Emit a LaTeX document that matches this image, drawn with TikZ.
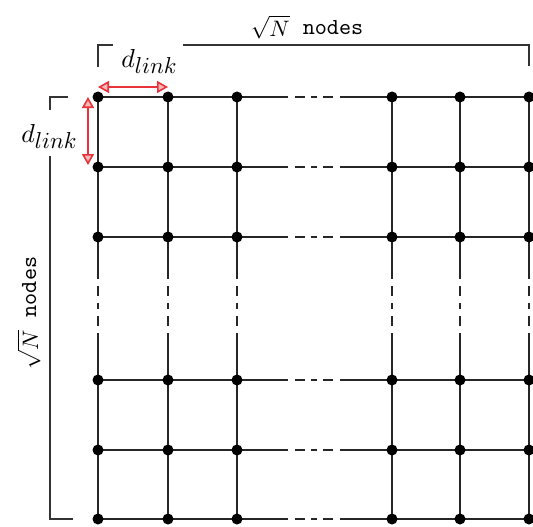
\documentclass[tikz,border=0pt]{standalone}
\usepackage{graphicx}
\usetikzlibrary{arrows.meta}
\definecolor{arrred}{HTML}{E8333A}
\newcommand{\dlinklabel}{$d$\raisebox{-2.3pt}{\scalebox{0.885}{$link$}}}
\newcommand{\sqrtnodes}{\scalebox{0.86}{$\sqrt{N}$}\hspace{5pt}\raisebox{0.8pt}{\scalebox{0.885}{\texttt{nodes}}}}
\begin{document}
\begin{tikzpicture}[x=1pt,y=-1pt,
  dot/.style={circle,fill=black,inner sep=0pt,minimum size=10pt},
  gridline/.style={line width=2pt,black!85},
  hgap/.style={gridline,dash pattern=on 51pt off 7pt on 10pt off 6pt on 6pt off 6pt on 10pt off 7pt on 60pt},
  vgap/.style={gridline,dash pattern=on 42pt off 7pt on 10pt off 7pt on 6pt off 7pt on 10pt off 7pt on 60pt},
  bracket/.style={line width=1.4pt,black!80},
  redarrow/.style={line width=1.6pt,arrred,{Triangle[length=11pt,width=12pt,fill=arrred!35]}-{Triangle[length=11pt,width=12pt,fill=arrred!35]}},
  lbl/.style={inner sep=0pt,scale=2.6}
]
\useasboundingbox (0,0) rectangle (533,527);
% grid nodes
\foreach \x [count=\i] in {98,168,237,392,460,529}{
  \foreach \y [count=\j] in {97,167,237,380,450,519}{
    \node[dot] (n-\i-\j) at (\x,\y) {};
  }
}
% horizontal lines
\foreach \j in {1,...,6}{
  \draw[gridline] (n-1-\j.center) -- (n-2-\j.center) -- (n-3-\j.center);
  \draw[hgap] (n-3-\j.center) -- (n-4-\j.center);
  \draw[gridline] (n-4-\j.center) -- (n-5-\j.center) -- (n-6-\j.center);
}
% vertical lines
\foreach \i in {1,...,6}{
  \draw[gridline] (n-\i-1.center) -- (n-\i-2.center) -- (n-\i-3.center);
  \draw[vgap] (n-\i-3.center) -- (n-\i-4.center);
  \draw[gridline] (n-\i-4.center) -- (n-\i-5.center) -- (n-\i-6.center);
}
% dots on top of the lines
\foreach \i in {1,...,6}{
  \foreach \j in {1,...,6}{
    \fill (n-\i-\j.center) circle (5.5pt);
  }
}
% top bracket
\coordinate (tb1) at (98,67);
\coordinate (tb2) at (98,45);
\coordinate (tb3) at (113,45);
\coordinate (tb4) at (183,45);
\coordinate (tb5) at (529,45);
\coordinate (tb6) at (529,66);
\draw[bracket] (tb1) -- (tb2) -- (tb3);
\draw[bracket] (tb4) -- (tb5) -- (tb6);
\node[lbl] (toplabel) at (307,27) {\sqrtnodes};
\node[lbl] (dtop) at (149,61) {\dlinklabel};
% left bracket
\coordinate (lb1) at (68,97);
\coordinate (lb2) at (50,97);
\coordinate (lb3) at (50,110);
\coordinate (lb4) at (50,156);
\coordinate (lb5) at (50,519);
\coordinate (lb6) at (73,519);
\draw[bracket] (lb1) -- (lb2) -- (lb3);
\draw[bracket] (lb4) -- (lb5) -- (lb6);
\node[lbl] (dleft) at (49,136) {\dlinklabel};
\node[lbl,rotate=90] (leftlabel) at (29,313) {\sqrtnodes};
% red arrows
\coordinate (ha1) at (98,87);
\coordinate (ha2) at (168,87);
\coordinate (va1) at (88,97);
\coordinate (va2) at (88,165);
\draw[redarrow] (ha1) -- (ha2);
\draw[redarrow] (va1) -- (va2);
\end{tikzpicture}
\end{document}
